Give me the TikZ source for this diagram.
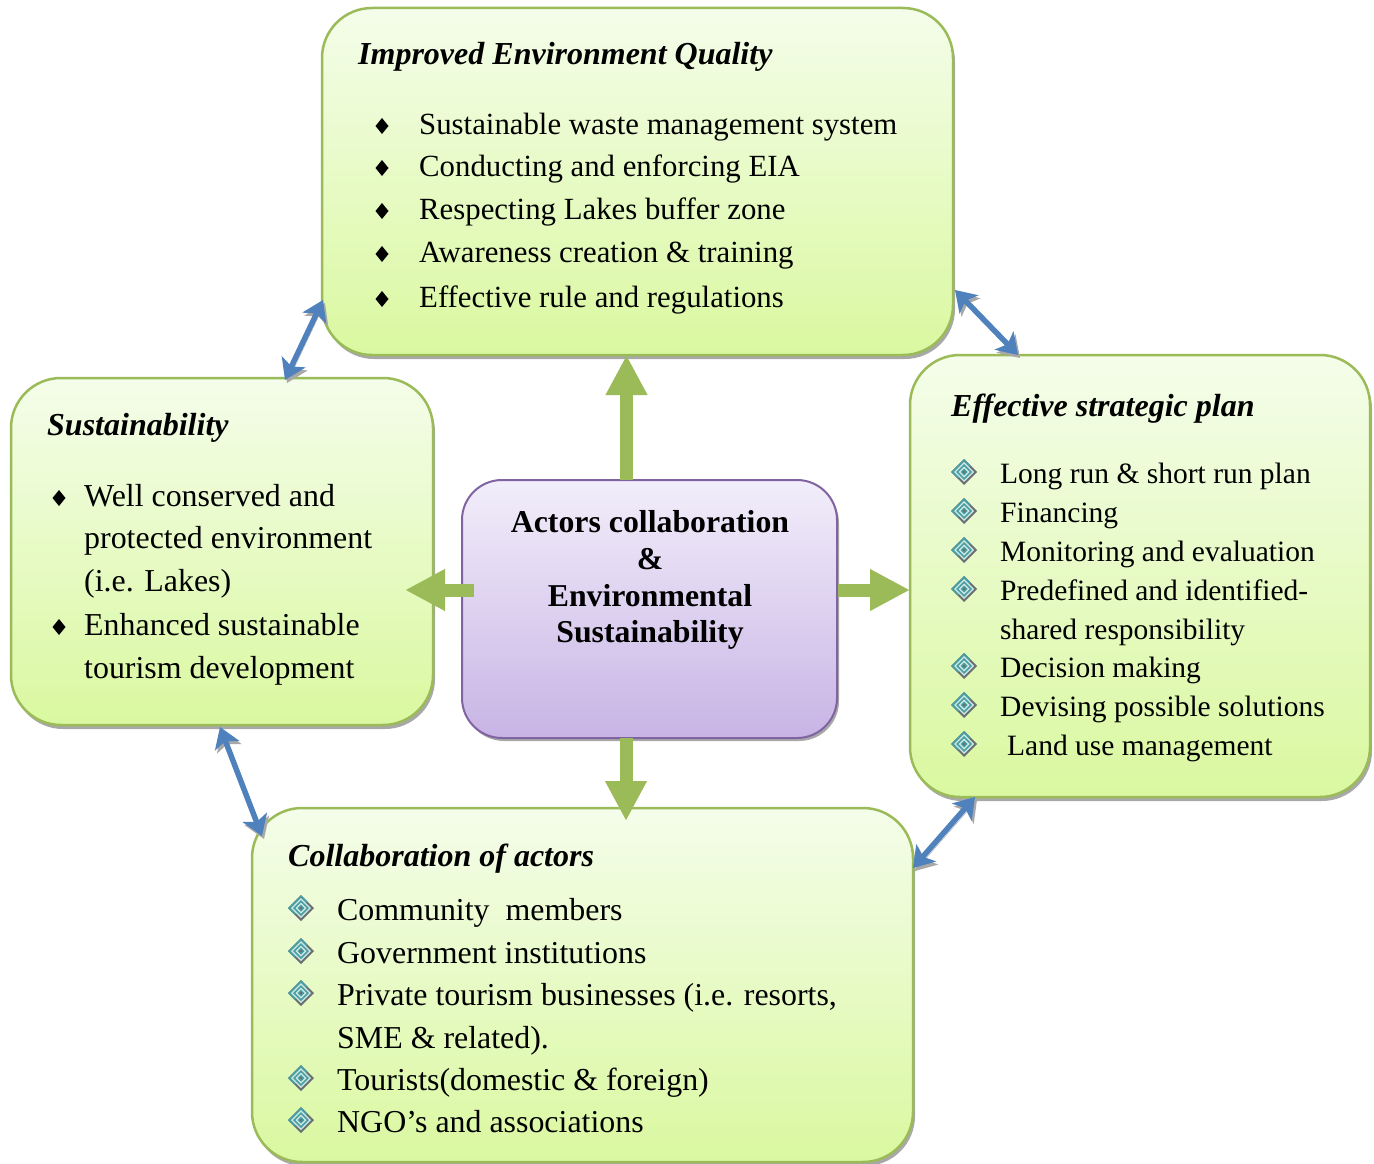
\documentclass[tikz,border=0pt]{standalone}
\usepackage{fontspec}
\setmainfont{Liberation Serif}
\usetikzlibrary{arrows.meta,shadows}
\definecolor{gborder}{HTML}{9BBB59}
\definecolor{gtop}{HTML}{F4FDEA}
\definecolor{gbot}{HTML}{DAF8A0}
\definecolor{ptop}{HTML}{F2EEFA}
\definecolor{pbot}{HTML}{C8B4E5}
\definecolor{pborder}{HTML}{8064A2}
\definecolor{blu}{HTML}{4F81BD}
\definecolor{shad}{HTML}{A8A8A8}
\definecolor{bteal}{HTML}{4A9EA3}
\definecolor{bgrey}{HTML}{6A6F73}
\definecolor{blite}{HTML}{CFEAE4}
\tikzset{
  gbox/.style={draw=gborder, line width=2.5pt, rounded corners=50pt, top color=gtop, bottom color=gbot, inner sep=0pt,
    drop shadow={shadow xshift=2pt, shadow yshift=-4pt, fill=shad, opacity=1}},
  pbox/.style={draw=pborder, line width=2pt, rounded corners=40pt, top color=ptop, bottom color=pbot, inner sep=0pt,
    drop shadow={shadow xshift=2pt, shadow yshift=-3pt, fill=shad, opacity=1}},
  body/.style={anchor=base west, inner sep=0pt, font=\fontsize{29.5}{35}\selectfont},
  bodytop/.style={body, font=\fontsize{30.8}{36}\selectfont},
  bodywide/.style={body, font=\fontsize{31.9}{37}\selectfont},
  ttl/.style={anchor=base west, inner sep=0pt, font=\fontsize{32}{38}\selectfont\bfseries\itshape},
  ctr/.style={anchor=base, inner sep=0pt, font=\fontsize{31.8}{38}\selectfont\bfseries},
  garr/.style={draw=gborder, line width=13pt, -{Triangle[length=40pt,width=39pt]}},
  barr/.style={draw=blu, line width=5.5pt, {Stealth[length=20pt,width=26pt,inset=5pt]}-{Stealth[length=20pt,width=26pt,inset=5pt]},
    preaction={draw=shad, transform canvas={xshift=2pt,yshift=-3pt}}},
  bdia/.pic={\fill[black] (0,-8)--(6.5,0)--(0,8)--(-6.5,0)--cycle;},
  fbul/.pic={
    \fill[bgrey] (0,-13)--(13,0)--(0,13)--(-13,0)--cycle;
    \fill[bteal] (-13,0)--(0,-13)--(6.5,-6.5)--(-6.5,6.5)--cycle;
    \fill[blite] (0,-10)--(10,0)--(0,10)--(-10,0)--cycle;
    \fill[bteal] (0,-8)--(8,0)--(0,8)--(-8,0)--cycle;
    \fill[blite] (0,-5.5)--(5.5,0)--(0,5.5)--(-5.5,0)--cycle;
    \fill[bteal] (0,-3.5)--(3.5,0)--(0,3.5)--(-3.5,0)--cycle;
    \fill[bgrey] (0,-1.5)--(1.5,0)--(0,1.5)--(-1.5,0)--cycle;
  }
}
\begin{document}
\begin{tikzpicture}[x=1pt,y=-1pt]
\useasboundingbox (0,0) rectangle (1374,1164);
\fill[white] (0,0) rectangle (1374,1164);
\clip (0,0) rectangle (1374,1164);
% boxes
\node[gbox, minimum width=631pt, minimum height=347pt] (top) at (637.5,181.5) {};
\node[gbox, minimum width=422pt, minimum height=347pt] (lft) at (222,551.5) {};
\node[gbox, minimum width=460pt, minimum height=442pt] (rgt) at (1140,576) {};
\node[gbox, minimum width=661pt, minimum height=354pt] (bot) at (582.5,985) {};
\node[pbox, minimum width=375pt, minimum height=258pt] (cen) at (649.5,609) {};
% green arrows
\coordinate (uA) at (626.5,480); \coordinate (uB) at (626.5,355);
\coordinate (dA) at (626,738); \coordinate (dB) at (626,821);
\coordinate (lA) at (474,590); \coordinate (lB) at (405,590);
\coordinate (rA) at (838,590); \coordinate (rB) at (910,590);
\draw[garr] (uA) -- (uB);
\draw[garr] (dA) -- (dB);
\draw[garr] (lA) -- (lB);
\draw[garr] (rA) -- (rB);
% blue arrows
\coordinate (b1a) at (323,300); \coordinate (b1b) at (285,380);
\coordinate (b2a) at (955,290); \coordinate (b2b) at (1018,355);
\coordinate (b3a) at (220,727); \coordinate (b3b) at (262,836);
\coordinate (b4a) at (975,797); \coordinate (b4b) at (913,868);
\draw[barr] (b1a) -- (b1b);
\draw[barr] (b2a) -- (b2b);
\draw[barr] (b3a) -- (b3b);
\draw[barr] (b4a) -- (b4b);
% top box text
\node[ttl] (tt) at (358,65) {Improved Environment Quality};
\node[bodytop] (t1) at (419,134) {Sustainable waste management system};
\node[bodytop] (t2) at (419,176) {Conducting and enforcing EIA};
\node[bodytop] (t3) at (419,219) {Respecting Lakes buffer zone};
\node[bodytop] (t4) at (419,262) {Awareness creation \& training};
\node[bodytop] (t5) at (419,307) {Effective rule and regulations};
\foreach \y in {126,168,211,254,299} \pic at (382,\y) {bdia};
% left box text
\node[ttl] (lt) at (47,435) {Sustainability};
\node[bodywide] (l1) at (84,506) {Well conserved and};
\node[bodywide] (l2) at (84,548) {protected environment};
\node[bodywide] (l3) at (84,591) {(i.e. Lakes)};
\node[bodywide] (l4) at (84,635) {Enhanced sustainable};
\node[bodywide] (l5) at (84,678) {tourism development};
\foreach \y in {498,627} \pic at (59,\y) {bdia};
% center text
\node[ctr] (c1) at (650,532) {Actors collaboration};
\node[ctr] (c2) at (650,569) {\&};
\node[ctr] (c3) at (650,606) {Environmental};
\node[ctr] (c4) at (650,642) {Sustainability};
% right box text
\node[ttl] (rt) at (951,416) {Effective strategic plan};
\node[body] (r1) at (1000,483) {Long run \& short run plan};
\node[body] (r2) at (1000,522) {Financing};
\node[body] (r3) at (1000,561) {Monitoring and evaluation};
\node[body] (r4) at (1000,600) {Predefined and identified-};
\node[body] (r5) at (1000,639) {shared responsibility};
\node[body] (r6) at (1000,677) {Decision making};
\node[body] (r7) at (1000,716) {Devising possible solutions};
\node[body] (r8) at (1007,755) {Land use management};
\foreach \y in {472,511,550,589,666,705,744} \pic at (964,\y) {fbul};
% bottom box text
\node[ttl] (bt) at (288,866) {Collaboration of actors};
\node[bodywide] (o1) at (337,920) {Community\ \ members};
\node[bodywide] (o2) at (337,963) {Government institutions};
\node[bodywide] (o3) at (337,1005) {Private tourism businesses (i.e. resorts,};
\node[bodywide] (o4) at (337,1048) {SME \& related).};
\node[bodywide] (o5) at (337,1090) {Tourists(domestic \& foreign)};
\node[bodywide] (o6) at (337,1132) {NGO’s and associations};
\foreach \y in {908,951,993,1078,1120} \pic at (301,\y) {fbul};
\end{tikzpicture}
\end{document}
